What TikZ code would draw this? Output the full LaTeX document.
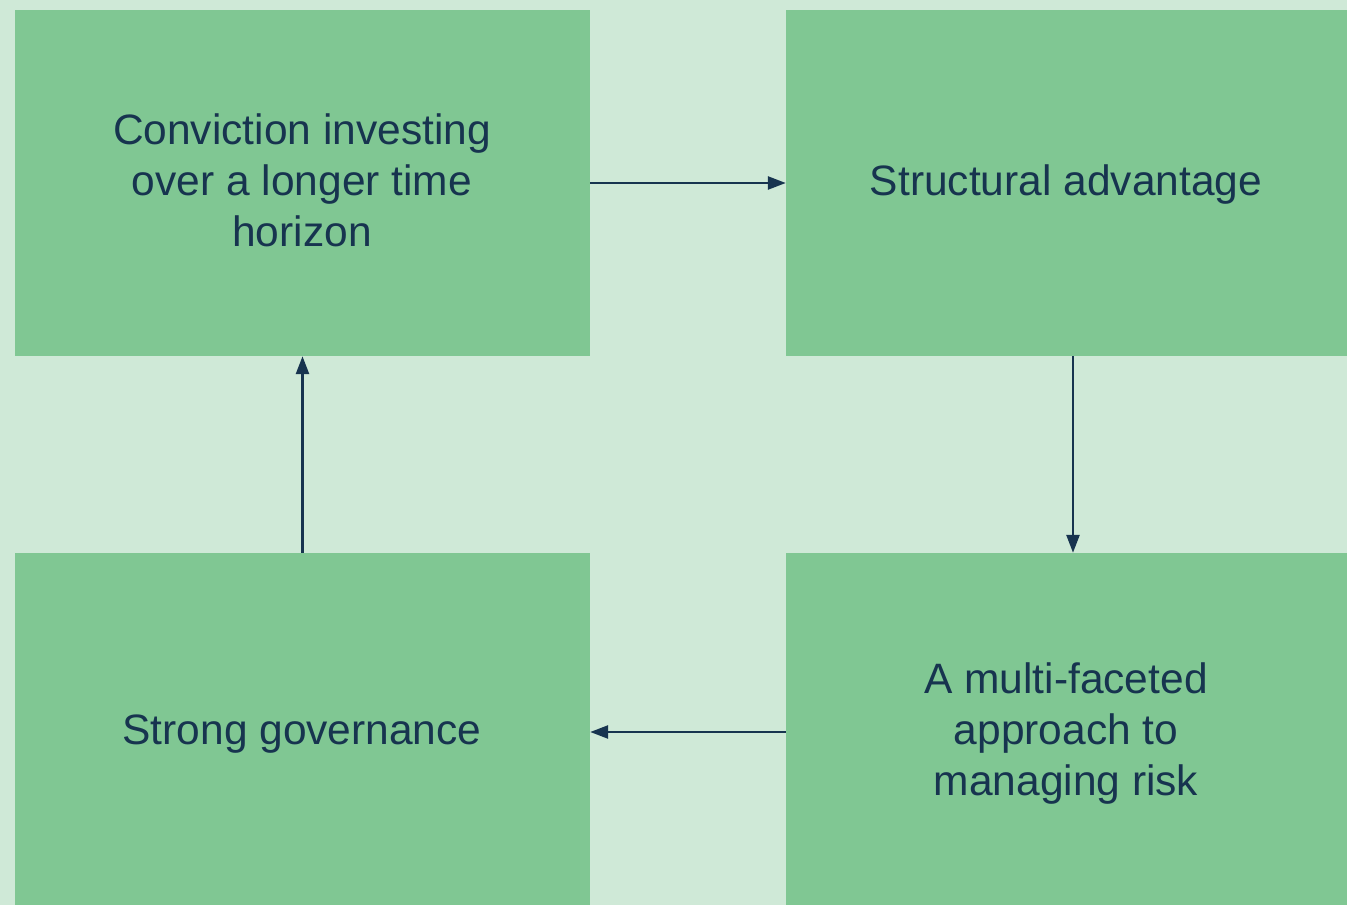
\documentclass[tikz,border=0pt]{standalone}
\usepackage{fontspec}
\setmainfont{Liberation Sans}
\usetikzlibrary{arrows.meta}
\definecolor{bgc}{HTML}{CFE9D7}
\definecolor{boxc}{HTML}{80C793}
\definecolor{inkc}{HTML}{17344F}
\begin{document}
\begin{tikzpicture}[x=1pt,y=-1pt,
  box/.style={draw=none,fill=boxc,rectangle,inner sep=0pt,text=inkc,align=center,
    font=\fontsize{42.5}{51}\selectfont},
  conn/.style={draw=inkc,line width=2.6pt,-{Triangle[length=18pt,width=13pt]}}]
\fill[bgc] (0,0) rectangle (1347,905);
\useasboundingbox (0,0) rectangle (1347,905);
\node[box,minimum width=575pt,minimum height=346pt] (tl) at (302.5,183) {};
\node[box,minimum width=561pt,minimum height=346pt] (tr) at (1066.5,183) {};
\node[box,minimum width=575pt,minimum height=352pt] (bl) at (302.5,729) {};
\node[box,minimum width=561pt,minimum height=352pt] (br) at (1066.5,729) {};
\node[box,fill=none] (tlt) at (302,180) {Conviction investing\\over a longer time\\horizon};
\node[box,fill=none] (trt) at (1066,185) {Structural advantage};
\node[box,fill=none] (blt) at (302,734) {Strong governance};
\node[box,fill=none] (brt) at (1066,734) {A multi-faceted\\approach to\\managing risk};
\draw[conn] (tl.east) -- (tr.west);
\draw[conn] ([xshift=6.5pt]tr.south) -- ([xshift=6.5pt]br.north);
\draw[conn] ([yshift=-3pt]br.west) -- ([yshift=-3pt]bl.east);
\draw[conn] (bl.north) -- (tl.south);
\end{tikzpicture}
\end{document}
